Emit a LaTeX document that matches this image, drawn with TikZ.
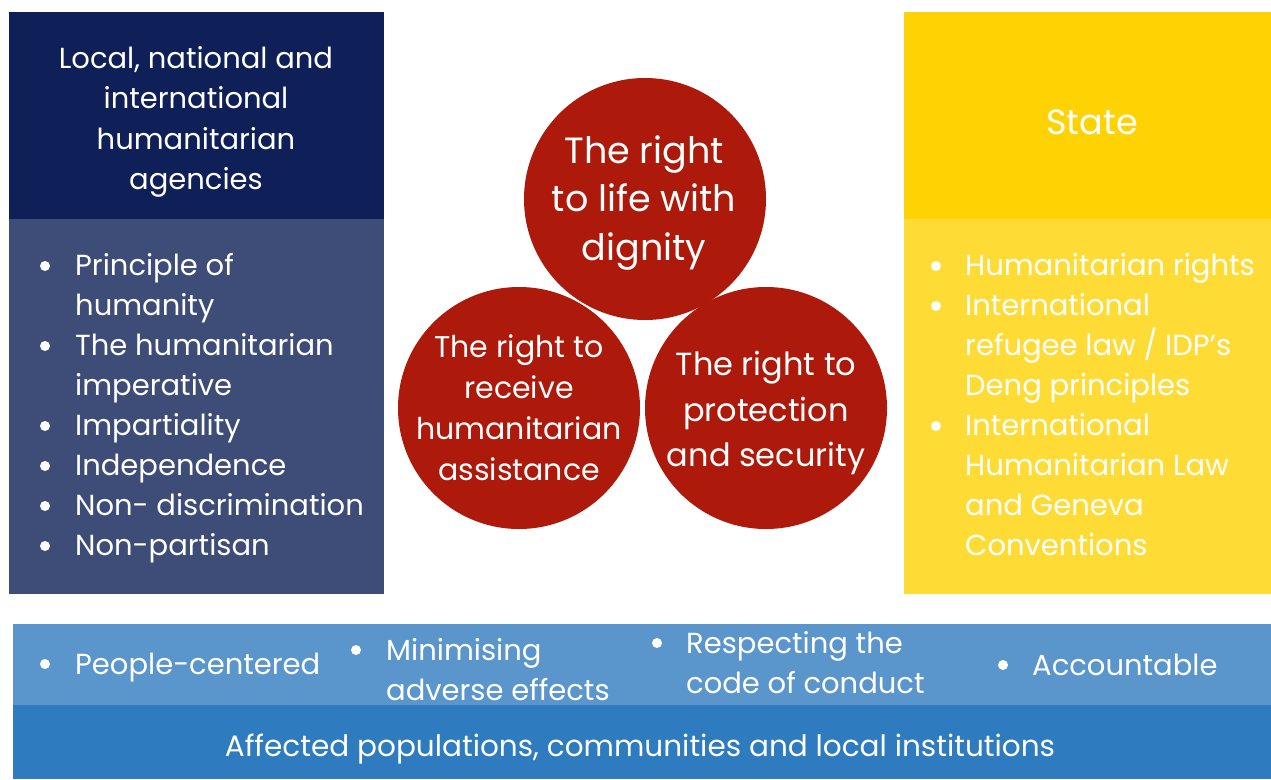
\documentclass[tikz,border=0pt]{standalone}
\usepackage{fontspec}
\setmainfont{Poppins}
\definecolor{navy}{HTML}{0F1F57}
\definecolor{navybody}{HTML}{3E4C78}
\definecolor{yelhead}{HTML}{FFD303}
\definecolor{yelbody}{HTML}{FFDC35}
\definecolor{bandup}{HTML}{5A96CC}
\definecolor{banddown}{HTML}{2E7BBF}
\definecolor{redc}{HTML}{AD1A0B}
\tikzset{
  panel/.style={fill=#1, draw=none},
  txt/.style={text=white, inner sep=0pt, font=\fontsize{29}{40}\selectfont},
  line/.style={txt, anchor=base west},
  head/.style={txt, align=center, font=\fontsize{29}{40.5}\selectfont},
  circ/.style={circle, fill=redc, minimum size=242pt, inner sep=0pt},
  ctext/.style={txt, align=center},
  bul/.style={circle, fill=white, minimum size=10pt, inner sep=0pt},
}
\begin{document}
\begin{tikzpicture}[x=1pt,y=-1pt]
\useasboundingbox (0,0) rectangle (1271,779);
\fill[white] (0,0) rectangle (1271,779);
% left panel
\fill[panel=navy] (9,12) rectangle (384,219);
\fill[panel=navybody] (9,219) rectangle (384,594);
% right panel
\fill[panel=yelhead] (904,12) rectangle (1271,219);
\fill[panel=yelbody] (904,219) rectangle (1271,594);
% bottom band
\fill[panel=bandup] (13,624) rectangle (1271,705);
\fill[panel=banddown] (13,705) rectangle (1271,779);
% circles
\node[circ] (ctop) at (645,199) {};
\node[circ] (cleft) at (519,408) {};
\node[circ] (cright) at (766,408) {};
\node[ctext, font=\fontsize{36.5}{48.5}\selectfont] (ttop) at (644,203) {The right\\to life with\\dignity};
\node[ctext, font=\fontsize{30}{41}\selectfont] (tleft) at (519,408) {The right to\\receive\\humanitarian\\assistance};
\node[ctext, font=\fontsize{32}{45.5}\selectfont] (tright) at (766,413) {The right to\\protection\\and security};
% headers
\node[head] (lhead) at (196,122) {Local, national and\\international\\humanitarian\\agencies};
\node[txt, font=\fontsize{35}{40}\selectfont] (rhead) at (1092,122) {State};
% left bullets
\foreach \y in {266,346,426,466,506,546}{
  \node[bul] at (45,\y) {};
}
\node[line] (l1) at (75,275) {Principle of};
\node[line] (l2) at (75,315) {humanity};
\node[line] (l3) at (75,355) {The humanitarian};
\node[line] (l4) at (75,395) {imperative};
\node[line] (l5) at (75,435) {Impartiality};
\node[line] (l6) at (75,475) {Independence};
\node[line] (l7) at (75,515) {Non- discrimination};
\node[line] (l8) at (75,555) {Non-partisan};
% right bullets
\foreach \y in {266,306,426}{
  \node[bul] at (936,\y) {};
}
\node[line] (r1) at (965,275) {Humanitarian rights};
\node[line] (r2) at (965,315) {International};
\node[line] (r3) at (965,355) {refugee law / IDP’s};
\node[line] (r4) at (965,395) {Deng principles};
\node[line] (r5) at (965,435) {International};
\node[line] (r6) at (965,475) {Humanitarian Law};
\node[line] (r7) at (965,515) {and Geneva};
\node[line] (r8) at (965,555) {Conventions};
% bottom bullets
\node[bul] at (45,664) {};
\node[line] (b1) at (75,674) {People-centered};
\node[bul] at (356,650) {};
\node[line] (b2a) at (386,660) {Minimising};
\node[line] (b2b) at (386,700) {adverse effects};
\node[bul] at (657,643) {};
\node[line] (b3a) at (686,653) {Respecting the};
\node[line] (b3b) at (686,693) {code of conduct};
\node[bul] at (1003,665) {};
\node[line] (b4) at (1032,675) {Accountable};
\node[txt, font=\fontsize{29.5}{40}\selectfont, anchor=base] (base) at (640,756) {Affected populations, communities and local institutions};
\end{tikzpicture}
\end{document}
